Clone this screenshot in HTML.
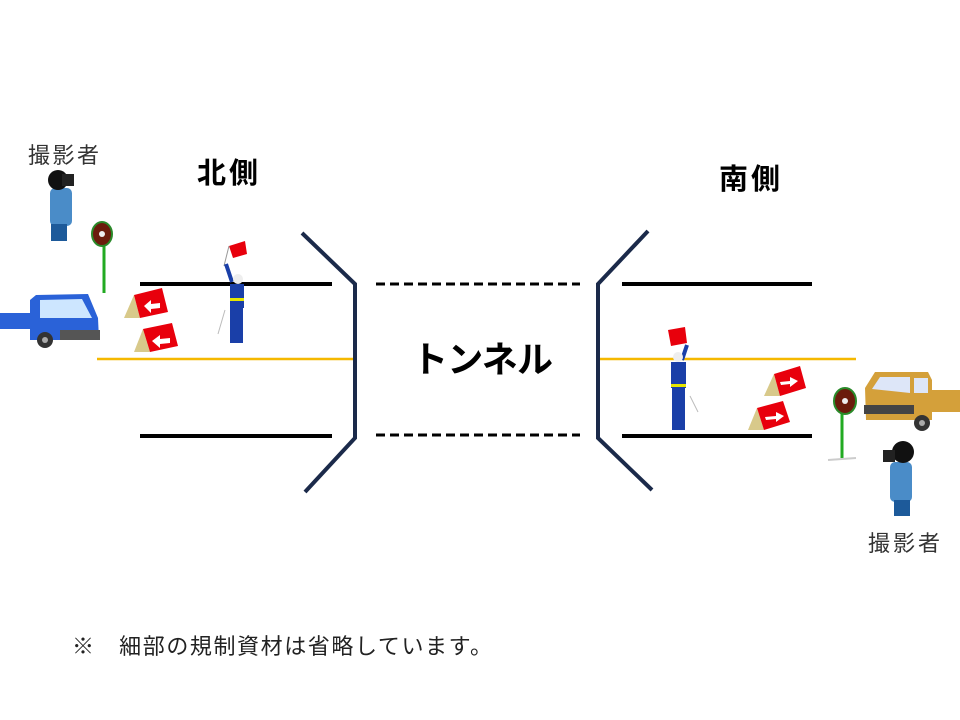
<!DOCTYPE html>
<html><head><meta charset="utf-8"><style>
html,body{margin:0;padding:0;background:#fff;width:960px;height:720px;overflow:hidden}
svg text{font-family:"Liberation Sans","Noto Sans CJK JP",sans-serif}
</style></head><body>
<svg width="960" height="720" viewBox="0 0 960 720" xmlns="http://www.w3.org/2000/svg">
<g stroke="#000" stroke-width="4">
<line x1="140" y1="284" x2="332" y2="284"/>
<line x1="140" y1="436" x2="332" y2="436"/>
<line x1="622" y1="284" x2="812" y2="284"/>
<line x1="622" y1="436" x2="812" y2="436"/>
<line x1="376" y1="284" x2="580" y2="284" stroke-width="3" stroke-dasharray="9,5"/>
<line x1="376" y1="435" x2="580" y2="435" stroke-width="3" stroke-dasharray="9,5"/>
</g>
<line x1="97" y1="359" x2="355" y2="359" stroke="#f5b800" stroke-width="2.5"/>
<line x1="600" y1="359" x2="856" y2="359" stroke="#f5b800" stroke-width="2.5"/>
<polyline points="302,233 355,284 355,438 305,492" fill="none" stroke="#1b2a4a" stroke-width="4"/>
<polyline points="648,231 598,284 598,438 652,490" fill="none" stroke="#1b2a4a" stroke-width="4"/>
<text x="197" y="183" font-size="29" font-weight="bold" textLength="61">北側</text>
<text x="719" y="189" font-size="29" font-weight="bold" textLength="61">南側</text>
<text x="412" y="372" font-size="36" font-weight="bold" textLength="141">トンネル</text>
<text x="28" y="163" font-size="22" fill="#333" textLength="71">撮影者</text>
<text x="868" y="551" font-size="22" fill="#333" textLength="72">撮影者</text>
<text x="72" y="654" font-size="22" fill="#222" textLength="420">※　細部の規制資材は省略しています。</text>

<g>
<rect x="50" y="188" width="22" height="38" rx="5" fill="#4a8cc8"/>
<rect x="51" y="224" width="16" height="17" fill="#1d5a9a"/>
<circle cx="58" cy="180" r="10" fill="#111"/>
<rect x="62" y="174" width="12" height="12" fill="#222"/>
</g>
<g>
<rect x="890" y="462" width="22" height="40" rx="5" fill="#4a8cc8"/>
<rect x="894" y="500" width="16" height="16" fill="#1d5a9a"/>
<circle cx="903" cy="452" r="11" fill="#111"/>
<rect x="883" y="450" width="12" height="12" fill="#222"/>
</g>
<g>
<line x1="104" y1="244" x2="104" y2="293" stroke="#22aa22" stroke-width="3"/>
<ellipse cx="102" cy="234" rx="10" ry="12" fill="#6b1c0c" stroke="#2a8a2a" stroke-width="2"/>
<circle cx="102" cy="234" r="3" fill="#eee"/>
</g>
<g>
<line x1="842" y1="412" x2="842" y2="458" stroke="#22aa22" stroke-width="3"/>
<line x1="828" y1="460" x2="856" y2="458" stroke="#ccc" stroke-width="2"/>
<ellipse cx="845" cy="401" rx="11" ry="13" fill="#6b1c0c" stroke="#2a8a2a" stroke-width="2"/>
<circle cx="845" cy="401" r="3" fill="#eee"/>
</g>
<g>
<rect x="0" y="313" width="40" height="16" fill="#2a62d8"/>
<path d="M30 300 L36 295 L88 294 L98 318 L99 340 L30 340 Z" fill="#2a62d8"/>
<path d="M40 300 L82 299 L92 318 L40 318 Z" fill="#cde6ff"/>
<rect x="60" y="330" width="40" height="10" fill="#555"/>
<circle cx="45" cy="340" r="8" fill="#333"/><circle cx="45" cy="340" r="3" fill="#aaa"/>
</g>
<g>
<path d="M865 388 L875 372 L928 372 L932 380 L932 420 L866 420 Z" fill="#d4a03a"/>
<rect x="930" y="390" width="30" height="22" fill="#d4a03a"/>
<path d="M872 389 L880 377 L910 377 L910 393 Z" fill="#dde6f8"/>
<path d="M914 378 L928 378 L928 393 L914 393 Z" fill="#dde6f8"/>
<rect x="864" y="405" width="50" height="9" fill="#444"/>
<circle cx="922" cy="423" r="8" fill="#333"/><circle cx="922" cy="423" r="3" fill="#aaa"/>
</g>
<g>
<polygon points="124,318 134,295 140,318" fill="#d8c98a"/>
<polygon points="134,295 162,288 168,312 140,318" fill="#e8000c"/>
<polygon points="144,306 151,300 151,304 160,303 160,308 151,309 151,313" fill="#fff"/>
<polygon points="134,352 143,329 150,352" fill="#d8c98a"/>
<polygon points="143,329 172,323 178,346 150,352" fill="#e8000c"/>
<polygon points="152,341 160,335 160,339 170,338 170,343 160,344 160,348" fill="#fff"/>
</g>
<g>
<polygon points="764,396 774,374 780,396" fill="#d8c98a"/>
<polygon points="774,374 800,366 806,388 780,396" fill="#e8000c"/>
<polygon points="780,382 790,381 790,377 798,381 790,387 790,384 781,385" fill="#fff"/>
<polygon points="748,430 757,408 764,430" fill="#d8c98a"/>
<polygon points="757,408 783,401 790,422 764,430" fill="#e8000c"/>
<polygon points="765,417 776,416 776,412 784,416 776,422 776,419 766,420" fill="#fff"/>
</g>
<g>
<polygon points="229,246 245,241 247,254 233,258" fill="#e8000c"/>
<line x1="229" y1="246" x2="224" y2="266" stroke="#999" stroke-width="1"/>
<line x1="226" y1="264" x2="232" y2="282" stroke="#1a3fa8" stroke-width="4"/>
<circle cx="238" cy="279" r="5" fill="#eee"/>
<rect x="230" y="284" width="14" height="24" fill="#1a3fa8"/>
<rect x="230" y="298" width="14" height="3" fill="#e6e600"/>
<rect x="230" y="307" width="13" height="36" fill="#1a3fa8"/>
<line x1="225" y1="310" x2="218" y2="334" stroke="#bbb" stroke-width="1"/>
</g>
<g>
<polygon points="668,330 685,327 687,343 671,346" fill="#e8000c"/>
<line x1="687" y1="345" x2="682" y2="360" stroke="#1a3fa8" stroke-width="4"/>
<circle cx="678" cy="357" r="5" fill="#eee"/>
<rect x="671" y="362" width="15" height="26" fill="#1a3fa8"/>
<rect x="671" y="384" width="15" height="3" fill="#e6e600"/>
<rect x="672" y="388" width="13" height="42" fill="#1a3fa8"/>
<line x1="690" y1="396" x2="698" y2="412" stroke="#bbb" stroke-width="1"/>
</g>
</svg>
</body></html>
